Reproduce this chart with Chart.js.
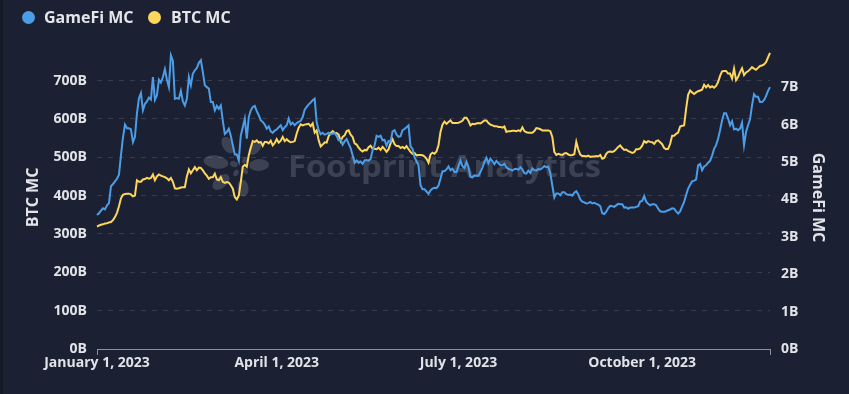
<!DOCTYPE html>
<html>
<head>
<meta charset="utf-8">
<script src="https://cdn.jsdelivr.net/npm/chart.js@4.4.1/dist/chart.umd.min.js"></script>
<style>
html,body{margin:0;padding:0;background:#1b2133;}
#wrap{position:relative;width:849px;height:394px;background:#1b2133;overflow:hidden;}
#edge{position:absolute;left:0;top:0;width:3px;height:394px;background:#141a28;}
.dot{position:absolute;width:13px;height:13px;border-radius:50%;top:11px;}
.lt{position:absolute;top:7px;font-family:"Open Sans",sans-serif;font-weight:700;font-size:16px;line-height:21px;color:#e4e6ea;white-space:nowrap;}
canvas{position:absolute;left:0;top:0;}
</style>
</head>
<body>
<div id="wrap">
  <canvas id="c" width="849" height="394"></canvas>
  <div id="edge"></div>
  <span class="dot" style="left:22px;background:#4c9de8"></span><span class="lt" style="left:44px">GameFi MC</span>
  <span class="dot" style="left:148px;background:#fdd65b"></span><span class="lt" style="left:171px">BTC MC</span>
</div>
<script>
// ---- data (billions USD), daily from January 1, 2023 ----
const startYear = 2023;
const tickLabels = ['January 1, 2023', 'April 1, 2023', 'July 1, 2023', 'October 1, 2023'];
const btcTicks = [0, 100, 200, 300, 400, 500, 600, 700];
const gamefiTicks = [0, 1, 2, 3, 4, 5, 6, 7];
const monthNames = ['January','February','March','April','May','June','July','August','September','October','November','December'];

const gamefiMC = [
3.58,3.63,3.70,3.76,3.73,3.84,3.90,4.35,4.41,4.48,
4.55,4.66,5.18,5.65,6.00,5.90,5.90,5.87,5.53,5.67,
6.30,6.70,6.84,6.38,6.55,6.62,6.72,6.67,7.27,6.66,
6.78,7.20,7.12,7.27,7.48,7.20,7.00,7.85,7.70,6.69,
6.71,6.69,6.90,6.62,6.51,6.69,7.27,7.05,7.36,7.45,
7.51,7.65,7.72,7.40,7.05,7.00,6.96,6.60,6.60,6.38,
6.50,6.42,6.51,6.10,5.75,5.80,5.89,5.70,5.45,5.20,
5.20,5.04,5.70,5.93,6.16,5.62,6.20,6.38,6.47,6.50,
6.36,6.25,6.11,6.07,
6.00,5.89,5.95,5.82,5.78,5.84,
5.87,5.93,5.98,5.85,5.93,5.98,6.16,6.00,6.05,5.98,
6.04,6.07,6.10,6.20,6.40,6.47,6.54,6.59,6.65,6.69,
6.06,5.85,5.74,5.78,5.73,5.75,5.78,5.74,5.76,5.77,
5.70,5.58,5.60,5.46,5.55,5.61,5.49,5.37,5.18,4.98,
5.04,4.98,5.01,4.95,5.04,5.05,5.03,5.08,5.31,5.44,
5.70,5.67,5.70,5.58,5.59,5.44,5.56,5.54,5.82,5.85,
5.73,5.67,5.69,5.85,5.88,5.93,5.98,5.42,5.35,5.13,
5.02,4.91,4.38,4.27,4.27,4.21,4.15,4.24,
4.29,4.31,
4.30,4.37,4.55,4.75,4.75,4.80,4.88,4.78,4.82,4.73,
4.73,4.89,5.04,4.89,4.84,5.00,4.86,4.60,4.59,4.64,
4.63,4.63,4.73,4.85,5.00,5.11,4.97,5.09,5.02,4.94,
5.03,4.97,4.91,4.91,4.95,4.86,4.81,4.80,4.77,4.81,
4.82,4.79,4.86,4.80,4.70,4.69,4.77,4.71,4.83,4.78,
4.77,4.81,4.80,4.84,4.89,4.86,4.88,4.69,4.37,4.05,
4.16,4.16,4.11,4.19,4.19,4.14,4.12,4.13,4.10,4.18,
4.22,4.13,4.00,3.94,3.92,3.89,3.90,3.93,3.89,3.91,
3.88,3.86,
3.82,3.63,3.61,3.67,3.77,3.83,3.82,3.80,
3.84,3.88,3.87,3.87,3.78,3.79,3.75,3.78,3.78,3.78,
3.80,3.82,3.94,3.96,4.09,3.94,3.88,3.84,3.87,3.87,
3.84,3.75,3.68,3.67,3.67,3.68,3.71,3.73,3.76,3.75,
3.68,3.62,3.68,3.81,3.93,4.12,4.29,4.39,4.48,4.50,
4.53,4.91,4.95,4.78,4.88,4.91,4.98,5.03,5.17,5.35,
5.45,5.62,5.85,6.11,6.30,6.30,6.16,5.98,6.09,5.87,
5.89,5.85,5.89,6.05,5.45,5.80,5.98,6.14,6.51,6.81,
6.74,6.74,6.60,6.60,6.65,6.76,6.90,7.00
];

const btcMC = [
319,322,324,325,327,328,330,331,336,344,
355,372,393,402,404,405,405,403,398,400,
440,436,436,442,443,446,444,446,455,440,
450,455,452,450,448,445,440,446,436,419,
418,419,421,422,422,450,468,458,466,474,
466,473,472,466,458,452,444,448,448,457,
442,440,448,436,433,435,434,427,418,396,
390,400,435,475,480,475,505,525,542,540,
544,538,540,530,
540,540,536,543,531,537,
547,538,543,553,542,547,542,539,540,542,
562,577,586,583,585,586,587,581,588,564,
570,544,528,533,539,538,555,563,568,563,
563,559,542,553,557,568,570,559,553,536,
533,525,519,515,519,518,526,530,522,522,
521,525,519,527,521,514,521,536,547,534,
529,529,524,527,523,529,521,514,509,511,
505,506,506,505,502,496,486,507,
512,509,
515,531,566,585,593,587,592,596,589,589,
589,590,592,595,603,603,595,583,587,586,
588,589,588,592,596,596,589,585,583,581,
581,579,579,577,580,566,568,568,569,569,
568,570,568,578,568,565,564,564,564,568,
576,575,573,570,570,570,570,568,553,514,
506,509,507,506,510,511,507,505,506,508,
540,520,507,503,503,502,504,501,502,502,
503,502,
506,496,498,509,514,515,514,516,
521,527,531,524,519,520,516,514,511,513,
521,521,523,530,542,538,542,540,539,535,
542,544,539,534,524,521,522,535,556,556,
561,564,580,582,583,627,663,674,669,665,
669,672,674,676,689,682,688,682,685,681,
686,696,712,724,725,725,718,718,705,731,
701,709,722,732,714,721,724,729,735,731,
728,733,738,739,742,748,760,772
];

// daily category labels
const dates = btcMC.map((_, i) => {
  const d = new Date(Date.UTC(startYear, 0, 1 + i));
  return monthNames[d.getUTCMonth()] + ' ' + d.getUTCDate() + ', ' + d.getUTCFullYear();
});

const TXT = '#e1e3e8';
const FONT = '"Open Sans", sans-serif';
Chart.defaults.font.family = FONT;

const watermark = {
  id: 'watermark',
  beforeDatasetsDraw(chart) {
    const ctx = chart.ctx;
    ctx.save();
    ctx.fillStyle = 'rgba(255,255,255,0.15)';
    ctx.font = 'bold 30px ' + FONT;
    ctx.textBaseline = 'alphabetic';
    ctx.textAlign = 'left';
    const txt = 'Footprint Analytics';
    const w = ctx.measureText(txt).width;
    ctx.save();
    ctx.translate(288, 177);
    ctx.scale(313 / w, 1);
    ctx.fillText(txt, 0, 0);
    ctx.restore();
    const cx = 240, cy = 166;
    const petals = [
      [-12, -21, 9, 5.5], [-24, -4, 12.5, 6.5], [-19, 16, 10, 6], [3, 22, 8.5, 5.5],
      [19, -1, 10, 6], [15, -18, 8, 5], [-6, -2, 4, 3], [5, -6, 3.5, 2.5], [5, 5, 3.5, 2.5], [-4, 7, 3.5, 2.5]
    ];
    petals.forEach(([dx, dy, rx, ry]) => {
      ctx.beginPath();
      ctx.ellipse(cx + dx, cy + dy, rx, ry, Math.atan2(dy, dx), 0, Math.PI * 2);
      ctx.fill();
    });
    ctx.restore();
  }
};

const tickFont = { size: 14, weight: 'bold' };
const titleFont = { size: 16, weight: 'bold' };

new Chart(document.getElementById('c'), {
  type: 'line',
  data: {
    labels: dates,
    datasets: [
      { label: 'GameFi MC', data: gamefiMC, yAxisID: 'y1', borderColor: '#4c9de8', backgroundColor: '#4c9de8', borderWidth: 2, pointRadius: 0, tension: 0 },
      { label: 'BTC MC', data: btcMC, yAxisID: 'y', borderColor: '#fdd65b', backgroundColor: '#fdd65b', borderWidth: 2, pointRadius: 0, tension: 0 }
    ]
  },
  options: {
    responsive: false,
    animation: false,
    layout: { padding: { top: 46, left: 0, right: 0, bottom: 0 } },
    plugins: { legend: { display: false }, tooltip: { enabled: false } },
    scales: {
      x: {
        type: 'category',
        offset: false,
        grid: {
          display: true, drawOnChartArea: false, drawTicks: true, tickLength: 6, lineWidth: 1,
          color: (c) => (c.index === 0 || c.index === dates.length - 1) ? '#8d919b' : 'rgba(0,0,0,0)'
        },
        border: { display: true, color: '#8d919b', width: 1 },
        ticks: {
          autoSkip: false, maxRotation: 0, minRotation: 0, padding: 0, color: TXT,
          font: tickFont,
          callback: function (v) { const l = this.getLabelForValue(v); return tickLabels.includes(l) ? l : ''; }
        },
        afterFit: (s) => { s.height = 45; }
      },
      y: {
        position: 'left', min: 0, max: 790,
        ticks: { padding: 10, color: TXT, font: tickFont, callback: (v) => v + 'B' },
        afterBuildTicks: (s) => { s.ticks = btcTicks.map(v => ({ value: v })); },
        grid: { drawTicks: false, lineWidth: 1, color: (c) => (c.tick && c.tick.value === 0) ? 'rgba(0,0,0,0)' : 'rgba(255,255,255,0.13)' },
        border: { display: false, dash: [5, 6] },
        title: { display: true, text: 'BTC MC', color: TXT, font: titleFont, padding: { top: 24, bottom: 0 } },
        afterFit: (s) => { s.width = 97; }
      },
      y1: {
        position: 'right', min: 0, max: 8.1,
        ticks: { padding: 11, color: TXT, font: tickFont, callback: (v) => v + 'B' },
        afterBuildTicks: (s) => { s.ticks = gamefiTicks.map(v => ({ value: v })); },
        grid: { display: false, drawTicks: false },
        border: { display: false },
        title: { display: true, text: 'GameFi MC', color: TXT, font: titleFont, padding: { top: 22, bottom: 0 } },
        afterFit: (s) => { s.width = 79; }
      }
    }
  },
  plugins: [watermark]
});
</script>
</body>
</html>
